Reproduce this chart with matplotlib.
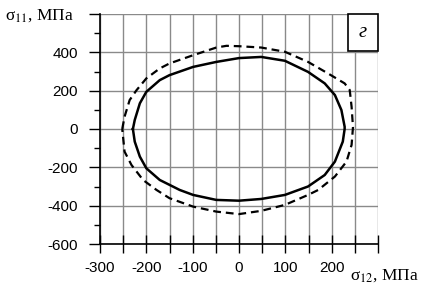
import numpy as np
import matplotlib.pyplot as plt
from matplotlib.patches import Rectangle
from matplotlib.ticker import MultipleLocator

plt.rcParams['font.family'] = ['Liberation Sans', 'DejaVu Sans']
plt.rcParams['mathtext.fontset'] = 'stix'

# сплошная кривая: sigma12 (x) и sigma11 (y), МПа
solid_x = [-229, -225, -214, -200, -171, -150, -99, -49, 0, 48, 99, 149, 185, 207, 221, 228,
           228, 224, 207, 185, 149, 99, 48, 0, -49, -99, -128, -171, -200, -214, -225, -229]
solid_y = [0, 47, 134, 194, 255, 281, 324, 350, 370, 376, 356, 298, 238, 177, 99, 12,
           0, -66, -170, -240, -300, -344, -365, -374, -370, -344, -318, -266, -205, -144, -66, 0]

# штриховая кривая
dash_x = [-252, -247, -236, -221, -200, -171, -150, -99, -49, -27, 0, 48, 99, 149, 192, 228, 239,
          243, 246, 243, 232, 207, 171, 149, 99, 48, 0, -49, -99, -150, -178, -207, -232, -247, -252]
dash_y = [0, 64, 151, 203, 264, 316, 342, 385, 425, 434, 432, 425, 403, 350, 290, 238, 203,
          116, 10, -83, -170, -248, -318, -344, -396, -427, -444, -431, -405, -361, -318, -266, -188, -118, 0]

x_ticks = [-300, -200, -100, 0, 100, 200, 300]
x_labels = ['-300', '-200', '-100', '0', '100', '200', '']
y_ticks = [-600, -400, -200, 0, 200, 400, 600]
y_labels = ['-600', '-400', '-200', '0', '200', '400', '']

fig = plt.figure(figsize=(4.34, 2.92), dpi=100)
ax = fig.add_axes([100/434, 1-244/292, 278/434, 230/292])

ax.plot(solid_x, solid_y, color='black', lw=1.8, zorder=3)
ax.plot(dash_x, dash_y, color='black', lw=1.6, ls=(0, (3.5, 2.2)), zorder=3)

ax.set_xlim(-300, 300)
ax.set_ylim(-600, 600)
ax.set_xticks(x_ticks)
ax.set_xticklabels(x_labels, fontsize=11)
ax.set_yticks(y_ticks)
ax.set_yticklabels(y_labels, fontsize=11)
ax.xaxis.set_minor_locator(MultipleLocator(50))
ax.yaxis.set_minor_locator(MultipleLocator(100))

ax.grid(True, which='major', axis='y', color='#8a8a8a', lw=1)
ax.grid(True, which='both', axis='x', color='#8a8a8a', lw=1)
ax.set_axisbelow(True)

ax.tick_params(axis='x', which='both', direction='inout', length=13, width=1, pad=6)
ax.tick_params(axis='y', which='major', direction='out', length=8, width=1, pad=8)
ax.tick_params(axis='y', which='minor', direction='out', length=4, width=1)

ax.spines['top'].set_visible(False)
ax.spines['right'].set_visible(False)
ax.spines['left'].set_linewidth(1.2)
ax.spines['bottom'].set_linewidth(1.2)

# рамка с буквой
ax.add_patch(Rectangle((235, 405), 65, 195, facecolor='white', edgecolor='black',
                       lw=1.2, zorder=5, clip_on=False))
ax.text(267, 505, 'г', fontsize=15, style='italic', family='Liberation Serif',
        ha='center', va='center', zorder=6)

fig.text(5/434, 1-16/292, 'σ$_{11}$, МПа', fontsize=12.5, family='Liberation Serif',
         ha='left', va='center')
fig.text(350/434, 1-276/292, 'σ$_{12}$, МПа', fontsize=12.5, family='Liberation Serif',
         ha='left', va='center')

fig.savefig('out.png', dpi=100)
